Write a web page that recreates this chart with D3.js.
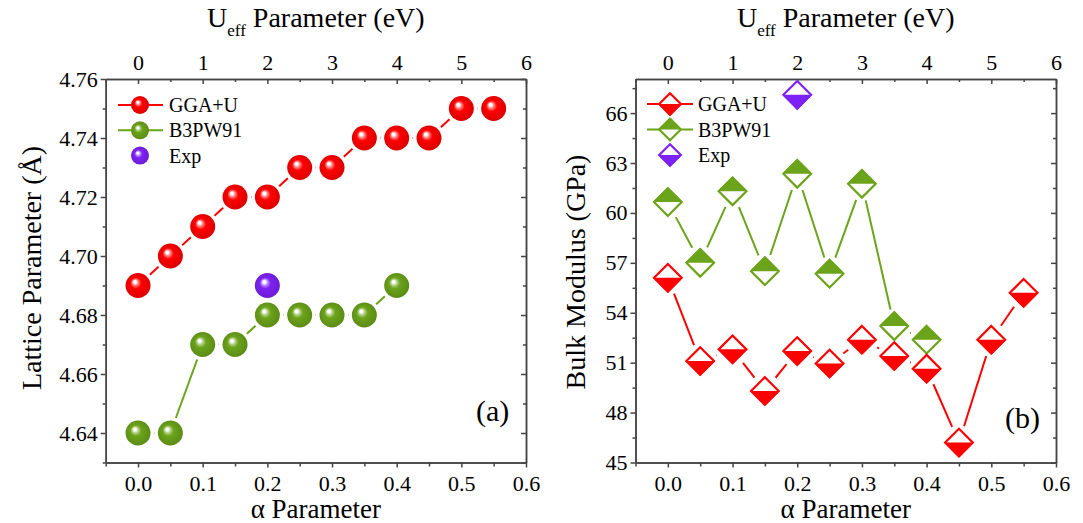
<!DOCTYPE html>
<html>
<head>
<meta charset="utf-8">
<script src="https://cdn.jsdelivr.net/npm/d3@7"></script>
<style>
body { margin: 0; background: #fff; }
text { font-family: "Liberation Serif", "Times New Roman", serif; fill: #000; }
.axis path, .axis line { stroke: #444; stroke-width: 1.5; }
</style>
</head>
<body>
<script>
// data
var alphaGGA = [0, 0.05, 0.1, 0.15, 0.2, 0.25, 0.3, 0.35, 0.4, 0.45, 0.5, 0.55];
var alphaB3 = [0, 0.05, 0.1, 0.15, 0.2, 0.25, 0.3, 0.35, 0.4];
var alphaExp = [0.2];

var latticeGGA = [4.69, 4.70, 4.71, 4.72, 4.72, 4.73, 4.73, 4.74, 4.74, 4.74, 4.75, 4.75];
var latticeB3 = [4.64, 4.64, 4.67, 4.67, 4.68, 4.68, 4.68, 4.68, 4.69];
var latticeExp = [4.69];

var bulkGGA = [56.1, 51.1, 51.8, 49.3, 51.7, 50.95, 52.38, 51.4, 50.64, 46.2, 52.38, 55.2];
var bulkB3 = [60.65, 57.0, 61.3, 56.5, 62.35, 56.35, 61.75, 53.2, 52.38];
var bulkExp = [67.1];

var latticeTicks = [4.64, 4.66, 4.68, 4.70, 4.72, 4.74, 4.76];
var latticeMinor = [4.63, 4.65, 4.67, 4.69, 4.71, 4.73, 4.75];
var bulkTicks = [45, 48, 51, 54, 57, 60, 63, 66];
var bulkMinor = [46.5, 49.5, 52.5, 55.5, 58.5, 61.5, 64.5, 67.5];
var alphaTicks = [0, 0.1, 0.2, 0.3, 0.4, 0.5, 0.6];
var alphaMinor = [-0.05, 0.05, 0.15, 0.25, 0.35, 0.45, 0.55];
var uTicks = [0, 1, 2, 3, 4, 5, 6];
var uMinor = [-0.5, 0.5, 1.5, 2.5, 3.5, 4.5, 5.5];

var legendNames = ["GGA+U", "B3PW91", "Exp"];

var red = "#ff0000", green = "#6ba31a", purple = "#7d22f5";

var W = 1083, H = 523;
var yTop = 79, yBottom = 462.5;

var svg = d3.select("body").append("svg")
    .attr("width", W)
    .attr("height", H);

var defs = svg.append("defs");

function ballGradient(id, c) {
    var g = defs.append("radialGradient")
        .attr("id", id)
        .attr("cx", 0.5).attr("cy", 0.5).attr("r", 0.55)
        .attr("fx", 0.36).attr("fy", 0.34);
    g.append("stop").attr("offset", "0%").attr("stop-color", "#fff");
    g.append("stop").attr("offset", "10%").attr("stop-color", "#fff");
    g.append("stop").attr("offset", "22%").attr("stop-color", d3.interpolateRgb(c, "#fff")(0.5));
    g.append("stop").attr("offset", "40%").attr("stop-color", c);
    g.append("stop").attr("offset", "100%").attr("stop-color", d3.color(c).darker(0.5));
}
ballGradient("ballRed", red);
ballGradient("ballGreen", green);
ballGradient("ballPurple", purple);

function zip(xs, ys) {
    return xs.map(function (x, i) { return [x, ys[i]]; });
}

// line with gaps next to the markers
function gapLine(g, pts, x, y, color, gap) {
    for (var i = 0; i < pts.length - 1; i++) {
        var x1 = x(pts[i][0]), y1 = y(pts[i][1]);
        var x2 = x(pts[i + 1][0]), y2 = y(pts[i + 1][1]);
        var dx = x2 - x1, dy = y2 - y1;
        var L = Math.sqrt(dx * dx + dy * dy);
        if (L <= 2 * gap) continue;
        var ux = dx / L, uy = dy / L;
        g.append("line")
            .attr("x1", x1 + ux * gap).attr("y1", y1 + uy * gap)
            .attr("x2", x2 - ux * gap).attr("y2", y2 - uy * gap)
            .attr("stroke", color)
            .attr("stroke-width", 2);
    }
}

function styleAxis(sel) {
    sel.selectAll("text")
        .style("font-family", "'Liberation Serif', 'Times New Roman', serif")
        .style("font-size", "22px")
        .attr("fill", "#000");
}

function drawAxes(g, x, u, y, yMajor, yMinor, fmt, xr) {
    // bottom
    g.append("g").attr("class", "axis")
        .attr("transform", "translate(0," + yBottom + ")")
        .call(d3.axisBottom(x).tickValues(alphaTicks).tickSize(5).tickSizeOuter(0)
            .tickPadding(8).tickFormat(d3.format(".1f")))
        .call(styleAxis);
    g.append("g").attr("class", "axis")
        .attr("transform", "translate(0," + yBottom + ")")
        .call(d3.axisBottom(x).tickValues(alphaMinor).tickSize(4).tickSizeOuter(0).tickFormat(""));
    // top (ticks inward)
    g.append("g").attr("class", "axis")
        .attr("transform", "translate(0," + yTop + ")")
        .call(d3.axisTop(u).tickValues(uTicks).tickSize(-5).tickSizeOuter(0)
            .tickPadding(9).tickFormat(d3.format("d")))
        .call(styleAxis);
    g.append("g").attr("class", "axis")
        .attr("transform", "translate(0," + yTop + ")")
        .call(d3.axisTop(u).tickValues(uMinor).tickSize(-3).tickSizeOuter(0).tickFormat(""));
    // left
    g.append("g").attr("class", "axis")
        .attr("transform", "translate(" + xr[0] + ",0)")
        .call(d3.axisLeft(y).tickValues(yMajor).tickSize(5).tickSizeOuter(0)
            .tickPadding(3).tickFormat(fmt))
        .call(styleAxis);
    g.append("g").attr("class", "axis")
        .attr("transform", "translate(" + xr[0] + ",0)")
        .call(d3.axisLeft(y).tickValues(yMinor).tickSize(3).tickSizeOuter(0).tickFormat(""));
    // right (ticks inward)
    g.append("g").attr("class", "axis")
        .attr("transform", "translate(" + xr[1] + ",0)")
        .call(d3.axisRight(y).tickValues(yMajor).tickSize(-5).tickSizeOuter(0).tickFormat(""));
    g.append("g").attr("class", "axis")
        .attr("transform", "translate(" + xr[1] + ",0)")
        .call(d3.axisRight(y).tickValues(yMinor).tickSize(-3).tickSizeOuter(0).tickFormat(""));
}

function axisTitles(g, cx) {
    var t = g.append("text")
        .attr("x", cx).attr("y", 27)
        .attr("text-anchor", "middle")
        .style("font-size", "28px");
    t.append("tspan").text("U");
    t.append("tspan").attr("dy", 9).style("font-size", "17px").text("eff");
    t.append("tspan").attr("dy", -9).text(" Parameter (eV)");
    g.append("text")
        .attr("x", cx).attr("y", 518)
        .attr("text-anchor", "middle")
        .style("font-size", "27px")
        .text("\u03b1 Parameter");
}

// ---------- panel (a) ----------
var rA = [105.7, 526];
var xA = d3.scaleLinear().domain([-0.05, 0.6]).range(rA);
var uA = d3.scaleLinear().domain([-0.5, 6]).range(rA);
var yA = d3.scaleLinear().domain([4.63, 4.76]).range([yBottom, yTop]);

var gA = svg.append("g");
drawAxes(gA, xA, uA, yA, latticeTicks, latticeMinor, d3.format(".2f"), rA);
axisTitles(gA, (rA[0] + rA[1]) / 2);

gA.append("text")
    .attr("transform", "translate(41,268) rotate(-90)")
    .attr("text-anchor", "middle")
    .style("font-size", "28px")
    .text("Lattice Parameter (\u00c5)");

var ptsGGA_A = zip(alphaGGA, latticeGGA);
var ptsB3_A = zip(alphaB3, latticeB3);
var ptsExp_A = zip(alphaExp, latticeExp);

gapLine(gA, ptsGGA_A, xA, yA, red, 16);
gapLine(gA, ptsB3_A, xA, yA, green, 16);

function balls(g, pts, x, y, grad, r) {
    g.selectAll(null).data(pts).enter().append("circle")
        .attr("cx", function (d) { return x(d[0]); })
        .attr("cy", function (d) { return y(d[1]); })
        .attr("r", r)
        .attr("fill", "url(#" + grad + ")");
}
balls(gA, ptsGGA_A, xA, yA, "ballRed", 12.5);
balls(gA, ptsB3_A, xA, yA, "ballGreen", 12.5);
balls(gA, ptsExp_A, xA, yA, "ballPurple", 12.5);

// legend (a)
var legA = gA.append("g");
var legColorsA = [red, green, null];
var legGradA = ["ballRed", "ballGreen", "ballPurple"];
legendNames.forEach(function (name, i) {
    var ly = 105 + i * 25.3;
    if (legColorsA[i]) {
        legA.append("line").attr("x1", 118).attr("x2", 163)
            .attr("y1", ly).attr("y2", ly)
            .attr("stroke", legColorsA[i]).attr("stroke-width", 2);
    }
    legA.append("circle").attr("cx", 140).attr("cy", ly).attr("r", 9)
        .attr("fill", "url(#" + legGradA[i] + ")");
    legA.append("text").attr("x", 169).attr("y", ly + 7)
        .style("font-size", "20px").text(name);
});

gA.append("text").attr("x", 476).attr("y", 421)
    .style("font-size", "30px").text("(a)");

// ---------- panel (b) ----------
var rB = [635.5, 1056];
var xB = d3.scaleLinear().domain([-0.05, 0.6]).range(rB);
var uB = d3.scaleLinear().domain([-0.5, 6]).range(rB);
var yB = d3.scaleLinear().domain([45, 68.05]).range([yBottom, yTop]);

var gB = svg.append("g");
drawAxes(gB, xB, uB, yB, bulkTicks, bulkMinor, d3.format("d"), rB);
axisTitles(gB, (rB[0] + rB[1]) / 2);

gB.append("text")
    .attr("transform", "translate(585,272) rotate(-90)")
    .attr("text-anchor", "middle")
    .style("font-size", "28px")
    .text("Bulk Modulus (GPa)");

var ptsGGA_B = zip(alphaGGA, bulkGGA);
var ptsB3_B = zip(alphaB3, bulkB3);
var ptsExp_B = zip(alphaExp, bulkExp);

gapLine(gB, ptsGGA_B, xB, yB, red, 17);
gapLine(gB, ptsB3_B, xB, yB, green, 17);

// half filled diamond; fillTop = true fills the upper half
function diamond(g, cx, cy, s, color, fillTop) {
    var d = g.append("g").attr("transform", "translate(" + cx + "," + cy + ")");
    d.append("path")
        .attr("d", "M0," + (-s) + "L" + s + ",0L0," + s + "L" + (-s) + ",0Z")
        .attr("fill", "#fff");
    var half = fillTop
        ? "M0," + (-s) + "L" + s + ",0L" + (-s) + ",0Z"
        : "M" + (-s) + ",0L" + s + ",0L0," + s + "Z";
    d.append("path").attr("d", half).attr("fill", color);
    var si = s - 1.2;
    d.append("path")
        .attr("d", "M0," + (-si) + "L" + si + ",0L0," + si + "L" + (-si) + ",0Z")
        .attr("fill", "none")
        .attr("stroke", color)
        .attr("stroke-width", 2.2);
}

function diamonds(g, pts, x, y, color, fillTop) {
    pts.forEach(function (p) {
        diamond(g, x(p[0]), y(p[1]), 15, color, fillTop);
    });
}
diamonds(gB, ptsB3_B, xB, yB, green, true);
diamonds(gB, ptsGGA_B, xB, yB, red, false);
diamonds(gB, ptsExp_B, xB, yB, purple, false);

// legend (b)
var legB = gB.append("g");
var legColorsB = [red, green, null];
var legFillB = [[red, false], [green, true], [purple, false]];
legendNames.forEach(function (name, i) {
    var ly = 104 + i * 25.5;
    if (legColorsB[i]) {
        legB.append("line").attr("x1", 647).attr("x2", 693)
            .attr("y1", ly).attr("y2", ly)
            .attr("stroke", legColorsB[i]).attr("stroke-width", 2);
    }
    diamond(legB, 670, ly, 12, legFillB[i][0], legFillB[i][1]);
    legB.append("text").attr("x", 698).attr("y", ly + 7)
        .style("font-size", "20px").text(name);
});

gB.append("text").attr("x", 1005).attr("y", 428)
    .style("font-size", "30px").text("(b)");
</script>
</body>
</html>
